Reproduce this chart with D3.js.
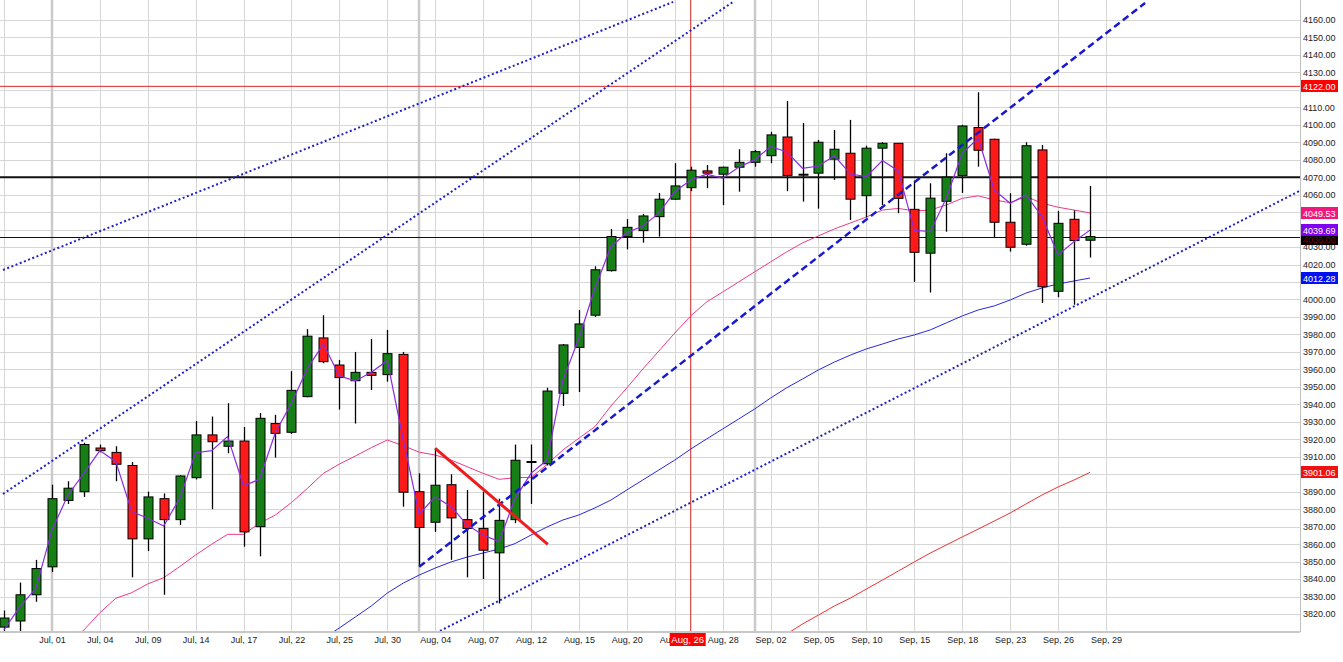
<!DOCTYPE html>
<html>
<head>
<meta charset="utf-8">
<script src="https://cdnjs.cloudflare.com/ajax/libs/d3/7.8.5/d3.min.js"></script>
<style>
  body { margin: 0; background: #fff; }
  svg { display: block; font-family: "Liberation Sans", Arial, sans-serif; }
</style>
</head>
<body>
<svg id="chart"></svg>
<script>
// x ticks sit on every third bar, starting at bar 0
var tickLabels = ["", "Jul, 01", "Jul, 04", "Jul, 09", "Jul, 14", "Jul, 17", "Jul, 22", "Jul, 25",
  "Jul, 30", "Aug, 04", "Aug, 07", "Aug, 12", "Aug, 15", "Aug, 20", "Aug, 25", "Aug, 28",
  "Sep, 02", "Sep, 05", "Sep, 10", "Sep, 15", "Sep, 18", "Sep, 23", "Sep, 26", "Sep, 29"];
var monthStarts = [3, 26, 47];
var priceTicks = d3.range(3820, 4161, 10);

var opens = [3812.5, 3816, 3831, 3847, 3885, 3890, 3915, 3912.5, 3905, 3863,
  3886, 3874, 3898, 3922.5, 3916, 3919, 3870, 3929, 3924, 3944.4,
  3978, 3962.5, 3953.5, 3958.3, 3957, 3968.6, 3890, 3872.5, 3894, 3874,
  3869, 3855, 3874, 3907, 3906, 3946.3, 3972.6, 3991, 4016.5, 4036,
  4039.4, 4047.4, 4057.4, 4064, 4073.6, 4071.7, 4075.7, 4078.5, 4082.3, 4093,
  4071.4, 4072.3, 4080.3, 4083.7, 4059.4, 4086.6, 4089.4, 4051.6, 4026.5, 4056.2,
  4071, 4098.4, 4091.7, 4044.2, 4031.6, 4085.6, 4004.7, 4045.9, 4033.9];
var highs = [3822, 3838, 3851, 3894, 3896, 3918, 3917, 3916, 3907, 3890,
  3889, 3899.5, 3930.5, 3933, 3940.6, 3927, 3935, 3934, 3959, 3983,
  3991, 3965.4, 3970, 3977.4, 3982.6, 3970, 3900.5, 3915, 3900, 3891,
  3890, 3886, 3917, 3917, 3949.5, 3974.5, 3994, 4019, 4040.4, 4046,
  4049, 4061, 4078, 4076, 4077, 4076, 4086, 4085.6, 4096, 4113.6,
  4101, 4091.3, 4097, 4102.8, 4088, 4090, 4089.5, 4068, 4066.5, 4083.7,
  4100, 4118.6, 4092, 4060.8, 4090, 4088.4, 4050.7, 4051, 4065];
var lows = [3809, 3810, 3827, 3844, 3883, 3887, 3912.5, 3896, 3841, 3856,
  3831, 3871, 3897, 3880, 3912, 3858.5, 3853, 3909.5, 3923, 3944,
  3963.5, 3937, 3929, 3948.2, 3953, 3881.4, 3847, 3867, 3851, 3841,
  3840, 3826, 3872, 3883, 3905, 3939, 3947, 3990, 4016, 4028.7,
  4032.5, 4036, 4057, 4062, 4063.7, 4054, 4061.7, 4076, 4078, 4062,
  4056, 4052, 4068.4, 4045.5, 4047, 4054, 4049.4, 4010, 4004, 4038.8,
  4061, 4076, 4035.6, 4027.4, 4030.8, 3998, 4001.3, 3997, 4024];
var closes = [3817.7, 3831, 3846, 3886, 3892, 3917, 3913.5, 3905.7, 3863, 3887,
  3874, 3899, 3922.5, 3918.6, 3919, 3867, 3932, 3923.4, 3948, 3979,
  3964.4, 3955.3, 3958.3, 3956.6, 3969, 3889.7, 3869.5, 3893.7, 3875, 3869,
  3856.5, 3873.6, 3908, 3907, 3947.6, 3974, 3986, 4017, 4036, 4041.3,
  4047.8, 4057.4, 4065, 4074, 4072.3, 4075.7, 4078.5, 4084.6, 4094.2, 4071,
  4071.4, 4090, 4086, 4057.4, 4086.6, 4089.4, 4057.9, 4027, 4058, 4070,
  4099.3, 4085.4, 4044.2, 4029.9, 4088, 4007.3, 4043.6, 4033.7, 4036];

// moving averages; each list starts at the bar given
var fastStart = 0;
var fastAvg = [3811, 3824.2, 3834.7, 3868, 3888, 3900.5, 3913.5, 3907.2, 3878.6, 3874.8,
  3870.4, 3886.2, 3912.3, 3913.5, 3921.5, 3893.3, 3897.1, 3924, 3940.6, 3960.6,
  3974.5, 3956.2, 3953.4, 3958.3, 3965, 3919.6, 3877.2, 3887.1, 3881.4, 3871,
  3865.2, 3861.4, 3886.2, 3900.5, 3908.1, 3954, 3977.8, 4006.4, 4030.2, 4038.2,
  4042, 4049.4, 4061.7, 4068.4, 4071.7, 4069.4, 4075.7, 4079.9, 4087.5, 4084.6,
  4075.1, 4076.4, 4082.2, 4071.8, 4070.3, 4079.5, 4073.6, 4039.6, 4038.8, 4057.9,
  4083.7, 4092.3, 4062.7, 4055.1, 4059.8, 4047.4, 4025.5, 4033.1, 4039.69];
var avg20Start = 4;
var avg20 = [3803, 3810.8, 3820.7, 3829, 3832.2, 3837.2, 3840.8, 3847.1, 3853.8, 3859.9,
  3865.6, 3865.6, 3871.9, 3876.7, 3883.8, 3891.9, 3900.5, 3905.8, 3910.4, 3915.2,
  3919.6, 3916.3, 3912.6, 3911, 3908.1, 3904.3, 3900.5, 3897.1, 3898, 3898.2,
  3905.5, 3913.9, 3920.6, 3927.2, 3939, 3949.4, 3960.2, 3970.5, 3980.8, 3990.6,
  3998.6, 4004.3, 4010, 4015.8, 4021.5, 4027.2, 4032.4, 4036.4, 4040.4, 4043.8,
  4047.2, 4051.2, 4052.1, 4050.7, 4051.2, 4054.1, 4057.9, 4059.3, 4057, 4055.4,
  4058.9, 4055.1, 4052.8, 4051.2, 4049.53];
var avg50Start = 20;
var avg50 = [3806, 3812, 3818.3, 3824.6, 3832, 3837.7, 3842.3, 3846.3, 3849.8, 3852.6,
  3854.9, 3857.2, 3860.3, 3865.2, 3869.8, 3873.8, 3876.7, 3880.7, 3885.2, 3891,
  3896.7, 3902.4, 3908.1, 3914.4, 3920.2, 3925.9, 3931.6, 3937.3, 3943.6, 3949.4,
  3954.5, 3959.7, 3964.2, 3968.2, 3971.7, 3974.5, 3977.4, 3979.7, 3982.6, 3986.6,
  3990.6, 3994, 3996.3, 3999.7, 4003.7, 4006.6, 4008.9, 4010.6, 4012.28];
var avg200Start = 48;
var avg200 = [3803, 3808.5, 3814.3, 3819.4, 3824.6, 3829.1, 3834.3, 3839.4, 3844.6, 3849.8,
  3854.9, 3859.5, 3864.1, 3868.6, 3873.2, 3877.8, 3883, 3888.1, 3892.7, 3896.7, 3901.06];

// drawn trend lines: [bar, price] end points
var channelTop = [[-0.06, 4016.9], [41.9, 4170.3]];
var channelMid = [[-0.06, 3888.7], [45.65, 4170.3]];
var channelLow = [[27.3, 3810.3], [81.2, 4062.5]];
var riseLine = [[26, 3847], [71.45, 4169.7]];
var fallLine = [[27, 3914.8], [34.05, 3859.9]];
var thickLevel = 4070;
var redLevel = 4122;
var lastLevel = 4036;
var crossBar = 43;
var crossLabel = "Aug, 26";

var svgWidth = 1343;
var svgHeight = 662;
var plotRight = 1300;
var plotBottom = 632;
var fmt = d3.format(".2f");
var svg = d3.select("#chart").attr("width", svgWidth).attr("height", svgHeight);
var xScale, yScale, plot;

// values that get a coloured box on the price axis
var boxValues = [redLevel, avg20[avg20.length - 1], fastAvg[fastAvg.length - 1],
  avg50[avg50.length - 1], avg200[avg200.length - 1]];

var createScales = function () {
  xScale = d3.scaleLinear().domain([-0.25, 81.15]).range([0, plotRight]);
  yScale = d3.scaleLinear().domain([3809.7, 4171.4]).range([plotBottom, 0]);
};

var createGrid = function () {
  var grid = svg.append("g");
  grid.selectAll(".hgrid").data(priceTicks).enter().append("line")
    .attr("x1", 0).attr("x2", plotRight)
    .attr("y1", function (d) { return Math.round(yScale(d)) + 0.5; })
    .attr("y2", function (d) { return Math.round(yScale(d)) + 0.5; })
    .attr("stroke", "#d6d6d6");
  grid.selectAll(".vgrid").data(tickLabels).enter().append("line")
    .attr("x1", function (d, i) { return Math.round(xScale(i * 3)) + 0.5; })
    .attr("x2", function (d, i) { return Math.round(xScale(i * 3)) + 0.5; })
    .attr("y1", 0).attr("y2", plotBottom)
    .attr("stroke", "#d6d6d6");
  grid.selectAll(".month").data(monthStarts).enter().append("line")
    .attr("x1", function (d) { return Math.round(xScale(d)); })
    .attr("x2", function (d) { return Math.round(xScale(d)); })
    .attr("y1", 0).attr("y2", plotBottom)
    .attr("stroke", "#cacaca").attr("stroke-width", 2.5);
};

var createAxes = function () {
  // tick labels hidden under a coloured price box are left out
  var shown = priceTicks.filter(function (t) {
    return !boxValues.some(function (b) { return Math.abs(b - t) < 5; });
  });
  var yAxis = d3.axisRight(yScale).tickValues(shown).tickFormat(fmt).tickSize(0).tickPadding(3);
  var gy = svg.append("g")
    .attr("transform", "translate(" + plotRight + ",0)")
    .call(yAxis);
  gy.select(".domain").attr("stroke", "#c0c0c0").attr("d", "M0.5,0V" + plotBottom);
  gy.selectAll("text").attr("font-size", 9).attr("fill", "#222").attr("font-family", "Liberation Sans, Arial");

  var xAxis = d3.axisBottom(xScale)
    .tickValues(d3.range(0, tickLabels.length * 3, 3))
    .tickFormat(function (d) { return tickLabels[d / 3]; })
    .tickSize(0).tickPadding(5);
  var gx = svg.append("g")
    .attr("transform", "translate(0," + plotBottom + ")")
    .call(xAxis);
  gx.select(".domain").attr("stroke", "#c8c8c8").attr("stroke-width", 2).attr("d", "M0,0H" + plotRight);
  gx.selectAll("text").attr("font-size", 9).attr("fill", "#222").attr("font-family", "Liberation Sans, Arial");
};

var createPlot = function () {
  svg.append("clipPath").attr("id", "clip")
    .append("rect").attr("x", 0).attr("y", 0).attr("width", plotRight).attr("height", plotBottom);
  plot = svg.append("g").attr("clip-path", "url(#clip)");
};

var drawLevels = function () {
  plot.append("line")
    .attr("x1", 0).attr("x2", plotRight)
    .attr("y1", yScale(redLevel)).attr("y2", yScale(redLevel))
    .attr("stroke", "#e02020").attr("stroke-width", 1);
  plot.append("line")
    .attr("x1", xScale(crossBar)).attr("x2", xScale(crossBar))
    .attr("y1", 0).attr("y2", plotBottom)
    .attr("stroke", "#d42020").attr("stroke-width", 1);
  plot.append("line")
    .attr("x1", 0).attr("x2", plotRight)
    .attr("y1", yScale(thickLevel)).attr("y2", yScale(thickLevel))
    .attr("stroke", "#111").attr("stroke-width", 2);
  plot.append("line")
    .attr("x1", 0).attr("x2", plotRight)
    .attr("y1", Math.round(yScale(lastLevel)) + 0.5).attr("y2", Math.round(yScale(lastLevel)) + 0.5)
    .attr("stroke", "#111").attr("stroke-width", 1);
};

var drawAverage = function (values, start, color, width) {
  var line = d3.line()
    .x(function (d, i) { return xScale(start + i); })
    .y(function (d) { return yScale(d); });
  plot.append("path").datum(values)
    .attr("d", line)
    .attr("fill", "none")
    .attr("stroke", color)
    .attr("stroke-width", width);
};

var drawTrend = function (pts, color, width, dash) {
  var line = d3.line()
    .x(function (d) { return xScale(d[0]); })
    .y(function (d) { return yScale(d[1]); });
  plot.append("path").datum(pts)
    .attr("d", line)
    .attr("fill", "none")
    .attr("stroke", color)
    .attr("stroke-width", width)
    .attr("stroke-dasharray", dash);
};

var drawCandles = function () {
  var g = plot.append("g");
  var idx = d3.range(opens.length);
  g.selectAll(".wick").data(idx).enter().append("line")
    .attr("x1", function (i) { return Math.round(xScale(i)) + 0.5; })
    .attr("x2", function (i) { return Math.round(xScale(i)) + 0.5; })
    .attr("y1", function (i) { return yScale(highs[i]); })
    .attr("y2", function (i) { return yScale(lows[i]); })
    .attr("stroke", "#000").attr("stroke-width", 1.3);
  g.selectAll(".body").data(idx.filter(function (i) { return opens[i] !== closes[i]; }))
    .enter().append("rect")
    .attr("x", function (i) { return Math.round(xScale(i)) - 4; })
    .attr("width", 9)
    .attr("y", function (i) { return yScale(Math.max(opens[i], closes[i])); })
    .attr("height", function (i) { return Math.max(1, Math.abs(yScale(opens[i]) - yScale(closes[i]))); })
    .attr("fill", function (i) { return closes[i] > opens[i] ? "#168016" : "#ff1a1a"; })
    .attr("stroke", "#000").attr("stroke-width", 1);
  g.selectAll(".doji").data(idx.filter(function (i) { return opens[i] === closes[i]; }))
    .enter().append("line")
    .attr("x1", function (i) { return Math.round(xScale(i)) - 4.5; })
    .attr("x2", function (i) { return Math.round(xScale(i)) + 5.5; })
    .attr("y1", function (i) { return yScale(closes[i]); })
    .attr("y2", function (i) { return yScale(closes[i]); })
    .attr("stroke", "#000").attr("stroke-width", 2);
};

var priceBox = function (value, bg, fg, dy) {
  var y = Math.round(yScale(value)) + (dy || 0);
  svg.append("rect")
    .attr("x", plotRight + 1).attr("y", y - 6)
    .attr("width", 37).attr("height", 12)
    .attr("fill", bg);
  svg.append("text")
    .attr("x", plotRight + 3).attr("y", y + 3.5)
    .attr("font-size", 9).attr("fill", fg || "#fff")
    .text(fmt(value));
};

var drawLabels = function () {
  priceBox(redLevel, "#ff0000");
  priceBox(avg20[avg20.length - 1], "#f0187c");
  priceBox(lastLevel, "#000", "#7a0000", 2);
  priceBox(fastAvg[fastAvg.length - 1], "#8000f0");
  priceBox(avg50[avg50.length - 1], "#0010f0");
  priceBox(avg200[avg200.length - 1], "#f01010");

  var cx = xScale(crossBar);
  svg.append("rect")
    .attr("x", cx - 21).attr("y", plotBottom + 1)
    .attr("width", 36).attr("height", 13)
    .attr("fill", "#ff0000");
  svg.append("text")
    .attr("x", cx - 3).attr("y", plotBottom + 11)
    .attr("text-anchor", "middle")
    .attr("font-size", 9.5).attr("fill", "#fff")
    .text(crossLabel);
};

createScales();
createGrid();
createPlot();
drawLevels();
drawAverage(avg200, avg200Start, "#f03030", 1);
drawAverage(avg50, avg50Start, "#2828e0", 1);
drawAverage(avg20, avg20Start, "#ee3a88", 1);
drawTrend(channelTop, "#2020c8", 2, "2,2.5");
drawTrend(channelMid, "#2020c8", 2, "2,2.5");
drawTrend(channelLow, "#2020c8", 2, "2,2.5");
drawCandles();
drawAverage(fastAvg, fastStart, "#8a2be2", 1.2);
drawTrend(riseLine, "#1818d0", 2.5, "7,4");
drawTrend(fallLine, "#ee1c1c", 3, null);
createAxes();
drawLabels();
</script>
</body>
</html>
